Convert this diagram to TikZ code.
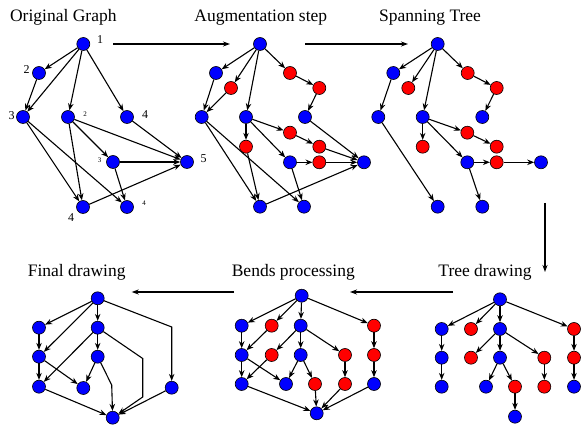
\documentclass[tikz,border=0pt]{standalone}
\usepackage{fontspec}
\setmainfont{Liberation Serif}
\usetikzlibrary{arrows.meta}
\begin{document}
\begin{tikzpicture}[x=1pt,y=-1pt,
  vb/.style={circle,draw=black,line width=0.6pt,fill={rgb,255:red,0;green,0;blue,255},minimum size=13pt,inner sep=0pt},
  vr/.style={circle,draw=black,line width=0.6pt,fill={rgb,255:red,255;green,0;blue,0},minimum size=13pt,inner sep=0pt},
  ed/.style={line width=1.1pt,-{Stealth[length=7pt,width=5.5pt]}},
  flow/.style={line width=1.1pt,-{Stealth[length=7pt,width=5pt]}},
  title/.style={anchor=base,font=\fontsize{17.5}{20}\selectfont,inner sep=0pt},
  lbl/.style={font=\fontsize{12}{14}\selectfont,inner sep=0pt},
  slbl/.style={font=\fontsize{7}{8}\selectfont,inner sep=0pt}]
\useasboundingbox (0,0) rectangle (582,427);

% ---------- titles ----------
\node[title] (t1) at (63.3,21.7) {Original Graph};
\node[title] (t2) at (260.8,21.7) {Augmentation step};
\node[title] (t3) at (430,21.7) {Spanning Tree};
\node[title] (t4) at (76.7,276.7) {Final drawing};
\node[title] (t5) at (293.3,276.7) {Bends processing};
\node[title] (t6) at (485,276.7) {Tree drawing};

% ---------- original graph ----------
\node[vb] (a1) at (83.3,44) {};
\node[vb] (a2) at (39,73) {};
\node[vb] (a3) at (23,117) {};
\node[vb] (a4) at (68,117) {};
\node[vb] (a5) at (127,117) {};
\node[vb] (a6) at (113,162) {};
\node[vb] (a7) at (187,162) {};
\node[vb] (a8) at (83,207) {};
\node[vb] (a9) at (127,207) {};
\node[lbl] (l1) at (100,40) {1};
\node[lbl] (l2) at (26.5,70) {2};
\node[lbl] (l3) at (11.7,115.5) {3};
\node[slbl] (l4) at (85,114.5) {2};
\node[lbl] (l5) at (145,114.5) {4};
\node[slbl] (l6) at (99.5,160) {3};
\node[lbl] (l7) at (203.5,159) {5};
\node[lbl] (l8) at (71,217.5) {4};
\node[slbl] (l9) at (144,203.5) {4};
\foreach \s/\t in {a1/a2,a1/a3,a1/a4,a1/a5,a2/a3,a3/a8,a3/a9,a4/a8,a4/a6,a4/a7,a5/a7,a6/a7,a6/a9,a8/a7}
  \draw[ed] (\s) -- (\t);

% ---------- augmentation step ----------
\node[vb] (b1) at (260,44) {};
\node[vb] (b2) at (216,73) {};
\node[vr] (b3) at (231,88) {};
\node[vr] (b4) at (290,73) {};
\node[vr] (b5) at (319.3,88) {};
\node[vb] (b6) at (201.7,117) {};
\node[vb] (b7) at (246,117) {};
\node[vb] (b8) at (305,117) {};
\node[vr] (b9) at (290,132.7) {};
\node[vr] (b10) at (246,146.7) {};
\node[vr] (b11) at (319.3,146.7) {};
\node[vb] (b12) at (290,162.3) {};
\node[vr] (b13) at (319.3,162.3) {};
\node[vb] (b14) at (364,162.3) {};
\node[vb] (b15) at (260,206.7) {};
\node[vb] (b16) at (304,206.7) {};
\foreach \s/\t in {b1/b2,b1/b3,b1/b7,b1/b4,b4/b5,b5/b8,b2/b6,b3/b6,b6/b15,b6/b16,b7/b10,b7/b9,b7/b12,b9/b11,b11/b14,b8/b14,b12/b13,b13/b14,b10/b15,b12/b16,b15/b14}
  \draw[ed] (\s) -- (\t);

% ---------- spanning tree ----------
\node[vb] (c1) at (437.7,44) {};
\node[vb] (c2) at (393.3,73) {};
\node[vr] (c3) at (408.3,88) {};
\node[vr] (c4) at (467.7,73) {};
\node[vr] (c5) at (496.7,88) {};
\node[vb] (c6) at (378.3,117) {};
\node[vb] (c7) at (422.7,117) {};
\node[vb] (c8) at (482.3,117) {};
\node[vr] (c9) at (467.3,132.7) {};
\node[vr] (c10) at (422.7,146.7) {};
\node[vr] (c11) at (496.7,146.7) {};
\node[vb] (c12) at (467.3,162.3) {};
\node[vr] (c13) at (496.7,162.3) {};
\node[vb] (c14) at (541,162.3) {};
\node[vb] (c15) at (437.7,206.7) {};
\node[vb] (c16) at (482.3,206.7) {};
\foreach \s/\t in {c1/c2,c1/c3,c1/c7,c1/c4,c4/c5,c5/c8,c2/c6,c6/c15,c7/c10,c7/c9,c7/c12,c9/c11,c12/c13,c13/c14,c12/c16}
  \draw[ed] (\s) -- (\t);

% ---------- tree drawing ----------
\node[vb] (f0) at (500,299.3) {};
\node[vb] (f11) at (441.7,329) {};
\node[vr] (f12) at (471,329) {};
\node[vb] (f13) at (500,329) {};
\node[vr] (f14) at (574,329) {};
\node[vb] (f21) at (441.7,357.7) {};
\node[vr] (f22) at (471,357.7) {};
\node[vb] (f23) at (500,357.7) {};
\node[vr] (f24) at (544.3,357.7) {};
\node[vr] (f25) at (574,357.7) {};
\node[vb] (f31) at (441.7,386.7) {};
\node[vb] (f32) at (486,386.7) {};
\node[vr] (f33) at (515,386.7) {};
\node[vr] (f34) at (544.3,386.7) {};
\node[vb] (f35) at (574,386.7) {};
\node[vb] (f41) at (515,416.7) {};
\foreach \s/\t in {f0/f11,f0/f12,f0/f13,f0/f14,f11/f21,f21/f31,f13/f22,f13/f23,f13/f24,f14/f25,f25/f35,f23/f32,f23/f33,f24/f34,f33/f41}
  \draw[ed] (\s) -- (\t);

% ---------- bends processing ----------
\node[vb] (e0) at (301.7,295.7) {};
\node[vb] (e11) at (241.7,325.7) {};
\node[vr] (e12) at (271.7,325.7) {};
\node[vb] (e13) at (300.7,325.7) {};
\node[vr] (e14) at (374,325.7) {};
\node[vb] (e21) at (241.7,355) {};
\node[vr] (e22) at (271.7,355) {};
\node[vb] (e23) at (300.7,355) {};
\node[vr] (e24) at (345,355) {};
\node[vr] (e25) at (374,355) {};
\node[vb] (e31) at (241.7,384) {};
\node[vb] (e32) at (286,384) {};
\node[vr] (e33) at (315,384) {};
\node[vr] (e34) at (345,384) {};
\node[vb] (e35) at (374,384) {};
\node[vb] (e4) at (316.7,413.3) {};
\foreach \s/\t in {e0/e11,e0/e12,e0/e13,e0/e14,e11/e21,e12/e21,e13/e22,e13/e23,e13/e24,e14/e25,e21/e31,e21/e32,e22/e31,e23/e32,e23/e33,e24/e34,e25/e35,e31/e4,e33/e4,e34/e4,e35/e4}
  \draw[ed] (\s) -- (\t);

% ---------- final drawing ----------
\node[vb] (d0) at (97.7,298.3) {};
\node[vb] (d11) at (39,327.7) {};
\node[vb] (d12) at (97.7,327.7) {};
\node[vb] (d21) at (39,356.7) {};
\node[vb] (d22) at (97.7,356.7) {};
\node[vb] (d31) at (39,386.7) {};
\node[vb] (d32) at (83.3,388) {};
\node[vb] (d33) at (171.7,387.7) {};
\node[vb] (d4) at (112.7,417.7) {};
\coordinate (k1) at (171.7,327);
\coordinate (k2) at (142.7,358.5);
\coordinate (k3) at (142.7,397);
\coordinate (k4) at (111.7,385);
\foreach \s/\t in {d0/d11,d0/d21,d0/d12,d11/d21,d21/d31,d21/d32,d12/d31,d12/d22,d22/d32,d31/d4,d33/d4}
  \draw[ed] (\s) -- (\t);
\draw[ed] (d0) -- (k1) -- (d33);
\draw[ed] (d12) -- (k2) -- (k3) -- (d4);
\draw[ed] (d22) -- (k4) -- (d4);

% ---------- flow between stages ----------
\coordinate (p1s) at (113,44);   \coordinate (p1e) at (230,44);
\coordinate (p2s) at (305,44);   \coordinate (p2e) at (408,44);
\coordinate (p3s) at (545,203);  \coordinate (p3e) at (545,272);
\coordinate (p4s) at (453,292);  \coordinate (p4e) at (350,292);
\coordinate (p5s) at (234,292);  \coordinate (p5e) at (131.7,292);
\draw[flow] (p1s) -- (p1e);
\draw[flow] (p2s) -- (p2e);
\draw[flow] (p3s) -- (p3e);
\draw[flow] (p4s) -- (p4e);
\draw[flow] (p5s) -- (p5e);
\end{tikzpicture}
\end{document}
